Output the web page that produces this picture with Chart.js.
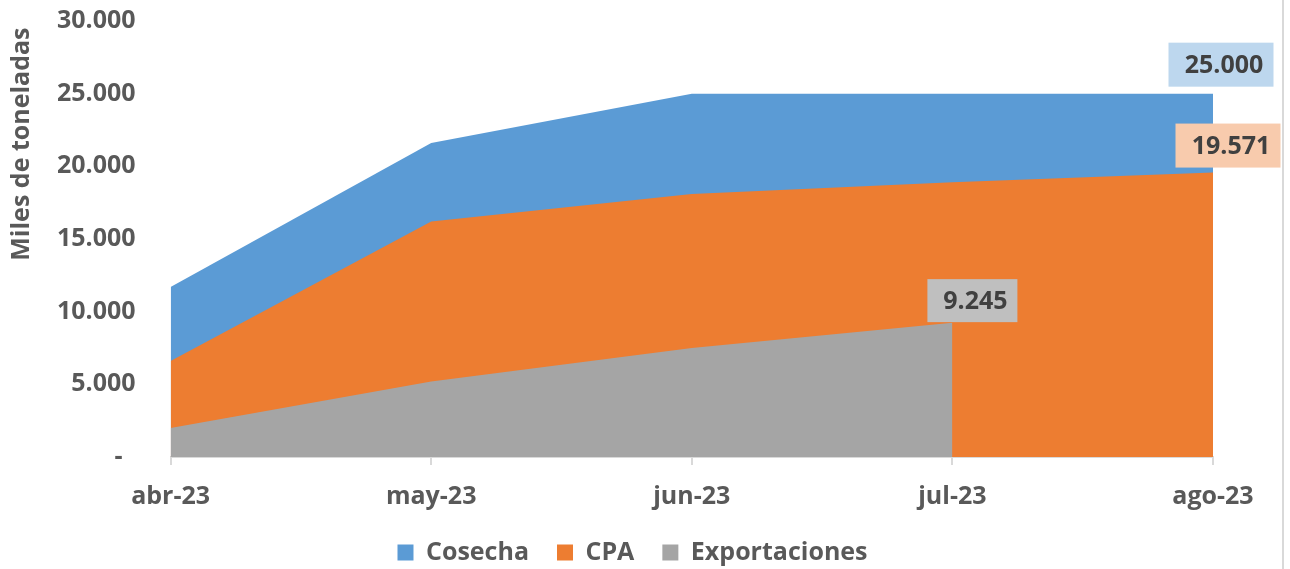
<!DOCTYPE html>
<html><head><meta charset="utf-8">
<script src="https://cdn.jsdelivr.net/npm/chart.js@4.4.0/dist/chart.umd.min.js"></script>
<style>
html,body{margin:0;padding:0;background:#fff;}
#wrap{position:relative;width:1290px;height:569px;overflow:hidden;}
#frame{position:absolute;left:1282px;top:0;width:2px;height:569px;background:#D9D9D9;}
</style></head><body>
<div id="wrap"><canvas id="c" width="1290" height="569"></canvas><div id="frame"></div></div>
<script>
const categories = ['abr-23', 'may-23', 'jun-23', 'jul-23', 'ago-23'];
const cosecha = [11700, 21600, 25000, 25000, 25000];
const cpa = [6600, 16200, 18100, 18900, 19571];
const exportaciones = [2000, 5200, 7500, 9245, null];
const yTickValues = [0, 5000, 10000, 15000, 20000, 25000, 30000];
const seriesNames = ['Cosecha', 'CPA', 'Exportaciones'];
const seriesColors = ['#5B9BD5', '#ED7D31', '#A5A5A5'];
const labelColors = ['#BDD7EE', '#F8CBAD', '#BFBFBF'];
const labelIndex = [4, 4, 3];

const FONT = "'Open Sans', 'Noto Sans', sans-serif";
const fmt = v => v === 0 ? '-  ' : String(v).replace(/\B(?=(\d{3})+(?!\d))/g, '.');

const seriesData = [cosecha, cpa, exportaciones];
const order = [2, 1, 0];
const datasets = order.map(i => ({
  label: seriesNames[i],
  data: seriesData[i],
  backgroundColor: seriesColors[i],
  borderColor: seriesColors[i],
  borderWidth: 0,
  pointRadius: 0,
  fill: 'origin',
  tension: 0,
  _s: i
}));

const valueLabels = {
  id: 'valueLabels',
  afterDatasetsDraw(chart) {
    const ctx = chart.ctx;
    const offs = [[8, -29, 105, 44], [15, -27, 105, 44], [20, -22, 90, 43]];
    chart.data.datasets.forEach((ds, di) => {
      const s = ds._s;
      const idx = labelIndex[s];
      const el = chart.getDatasetMeta(di).data[idx];
      if (!el) return;
      const [dx, dy, w, h] = offs[s];
      const cx = el.x + dx, cy = el.y + dy;
      ctx.save();
      ctx.fillStyle = labelColors[s];
      ctx.fillRect(cx - w / 2, cy - h / 2, w, h);
      ctx.fillStyle = '#404040';
      ctx.font = 'bold 25px ' + FONT;
      ctx.textAlign = 'center';
      ctx.textBaseline = 'middle';
      ctx.fillText(fmt(ds.data[idx]), cx + 3, cy + 1);
      ctx.restore();
    });
  }
};

new Chart(document.getElementById('c'), {
  type: 'line',
  data: { labels: categories, datasets },
  plugins: [valueLabels],
  options: {
    responsive: false,
    animation: false,
    devicePixelRatio: 1,
    layout: { padding: { left: 52, right: 77, top: 21, bottom: -6 } },
    plugins: {
      tooltip: { enabled: false },
      legend: {
        position: 'bottom',
        reverse: true,
        labels: {
          boxWidth: 16, boxHeight: 16, padding: 28,
          color: '#595959',
          font: { family: FONT, size: 25, weight: 'bold' }
        }
      }
    },
    scales: {
      x: {
        offset: false,
        grid: { display: true, drawOnChartArea: false, drawTicks: true, tickLength: 8, color: '#D9D9D9', lineWidth: 2 },
        border: { display: true, color: '#D9D9D9', width: 2 },
        ticks: { color: '#595959', padding: 17, maxRotation: 0, font: { family: FONT, size: 25, weight: 'bold' } },
        afterFit(scale) { scale.height = 55; }
      },
      y: {
        min: 0, max: 30000,
        afterBuildTicks(scale) { scale.ticks = yTickValues.map(v => ({ value: v })); },
        afterFit(scale) { scale.width -= 35; scale.paddingTop = 15; scale.paddingBottom = 15; },
        grid: { display: false, drawTicks: false },
        border: { display: false },
        ticks: { color: '#595959', padding: 35, callback: v => fmt(v), font: { family: FONT, size: 25, weight: 'bold' } },
        title: {
          display: true, text: 'Miles de toneladas ', align: 'end',
          color: '#595959', padding: { top: -45, bottom: 20 },
          font: { family: FONT, size: 25, weight: 'bold' }
        }
      }
    }
  }
});
</script>
</body></html>
